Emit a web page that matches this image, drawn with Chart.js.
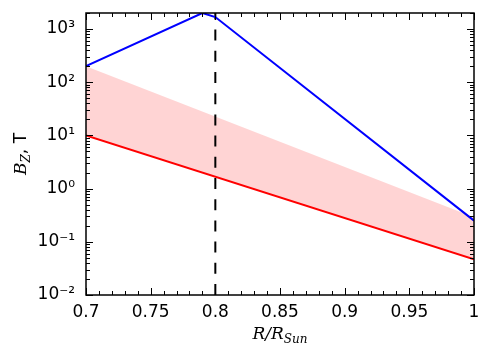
<!DOCTYPE html>
<html>
<head>
<meta charset="utf-8">
<script src="https://cdn.jsdelivr.net/npm/chart.js@4/dist/chart.umd.min.js"></script>
<style>
html,body{margin:0;padding:0;background:#fff;}
#wrap{width:491px;height:360px;position:relative;}
</style>
</head>
<body>
<div id="wrap"><canvas id="c" width="491" height="360"></canvas></div>
<script>
// ---- data ----
const blueX = [0.7, 0.79, 0.8, 1.0];
const blueY = [200, 2000, 1680, 0.25];
const redX = [0.7, 1.0];
const redY = [10, 0.047];
const bandTopX = [0.7, 1.0];
const bandTopY = [200, 0.29];
const dashX = [0.8, 0.8];
const dashY = [0.01, 2000];
const xTicks = [0.7, 0.75, 0.8, 0.85, 0.9, 0.95, 1.0];
const xTickLabels = ['0.7', '0.75', '0.8', '0.85', '0.9', '0.95', '1'];
const yTicks = [0.01, 0.1, 1, 10, 100, 1000];
const yTickLabels = ['10\u207B\u00B2', '10\u207B\u00B9', '10\u2070', '10\u00B9', '10\u00B2', '10\u00B3'];
const xMinorStep = 0.01;

const pts = (xs, ys) => xs.map((x, i) => ({x: x, y: ys[i]}));

const frame = {
  id: 'frame',
  afterDraw(chart) {
    const ctx = chart.ctx, a = chart.chartArea;
    const xs = chart.scales.x, ys = chart.scales.y;
    ctx.save();
    ctx.strokeStyle = '#000';
    ctx.lineWidth = 1;
    ctx.beginPath();
    const nMinor = Math.round((xs.max - xs.min) / xMinorStep);
    for (let i = 0; i <= nMinor; i++) {
      const v = xs.min + i * xMinorStep;
      const px = Math.round(xs.getPixelForValue(v)) + 0.5;
      const major = xTicks.some(t => Math.abs(t - v) < 1e-9);
      const L = major ? 7 : 4;
      ctx.moveTo(px, a.bottom); ctx.lineTo(px, a.bottom - L);
      ctx.moveTo(px, a.top); ctx.lineTo(px, a.top + L);
    }
    for (let d = -2; d <= 3; d++) {
      for (let k = 1; k <= 9; k++) {
        const v = k * Math.pow(10, d);
        if (v < ys.min - 1e-12 || v > ys.max) continue;
        const py = Math.round(ys.getPixelForValue(v)) + 0.5;
        const L = k === 1 ? 7 : 4;
        ctx.moveTo(a.left, py); ctx.lineTo(a.left + L, py);
        ctx.moveTo(a.right, py); ctx.lineTo(a.right - L, py);
      }
    }
    ctx.stroke();
    ctx.lineWidth = 1.5;
    ctx.strokeRect(a.left, a.top, a.right - a.left, a.bottom - a.top);

    ctx.fillStyle = '#000';
    ctx.textBaseline = 'alphabetic';
    const fMain = 'italic 17px "DejaVu Serif"';
    const fSub = 'italic 12px "DejaVu Serif"';
    ctx.font = fMain;
    const w1 = ctx.measureText('R/R').width;
    ctx.font = fSub;
    const w2 = ctx.measureText('Sun').width;
    const cx = (a.left + a.right) / 2;
    let x0 = cx - (w1 + w2) / 2;
    const by = 339;
    ctx.font = fMain; ctx.textAlign = 'left';
    ctx.fillText('R/R', x0, by);
    ctx.font = fSub;
    ctx.fillText('Sun', x0 + w1, by + 4);

    ctx.save();
    ctx.translate(26, (a.top + a.bottom) / 2);
    ctx.rotate(-Math.PI / 2);
    ctx.font = fMain;
    const wb = ctx.measureText('B').width;
    ctx.font = fSub;
    const wz = ctx.measureText('Z').width;
    ctx.font = '17px "DejaVu Sans"';
    const wt = ctx.measureText(', T').width;
    let s = -(wb + wz + wt) / 2;
    ctx.font = fMain; ctx.fillText('B', s, 0);
    ctx.font = fSub; ctx.fillText('Z', s + wb, 4);
    ctx.font = '17px "DejaVu Sans"'; ctx.fillText(', T', s + wb + wz, 0);
    ctx.restore();
    ctx.restore();
  }
};

new Chart(document.getElementById('c'), {
  type: 'line',
  data: {
    datasets: [
      { data: pts(bandTopX, bandTopY), borderWidth: 0, borderColor: 'rgba(0,0,0,0)',
        backgroundColor: 'rgba(255,0,0,0.17)', fill: 1, pointRadius: 0 },
      { data: pts(redX, redY), borderColor: '#ff0000', borderWidth: 2, pointRadius: 0, fill: false },
      { data: pts(blueX, blueY), borderColor: '#0000ff', borderWidth: 2, pointRadius: 0, fill: false },
      { data: pts(dashX, dashY), borderColor: '#000000', borderWidth: 2, borderDash: [11, 10.2],
        pointRadius: 0, fill: false }
    ]
  },
  options: {
    responsive: false,
    animation: false,
    devicePixelRatio: 1,
    layout: { padding: { left: 0, right: 17, top: 13, bottom: 0 } },
    plugins: {
      legend: { display: false },
      tooltip: { enabled: false },
      filler: { drawTime: 'beforeDatasetsDraw' }
    },
    elements: { line: { tension: 0 } },
    scales: {
      x: {
        type: 'linear', min: 0.7, max: 1.0,
        grid: { display: false, drawTicks: false },
        border: { display: false },
        afterBuildTicks: (sc) => { sc.ticks = xTicks.map(v => ({ value: v })); },
        afterFit: (sc) => { sc.height = 65; sc.paddingLeft = 0; sc.paddingRight = 0; },
        ticks: {
          autoSkip: false, maxRotation: 0, padding: 7, color: '#000',
          font: { family: '"DejaVu Sans"', size: 17 },
          callback: (v) => { const i = xTicks.findIndex(t => Math.abs(t - v) < 1e-9); return i >= 0 ? xTickLabels[i] : ''; }
        }
      },
      y: {
        type: 'logarithmic', min: 0.01, max: 2000,
        grid: { display: false, drawTicks: false },
        border: { display: false },
        afterBuildTicks: (sc) => { sc.ticks = yTicks.map(v => ({ value: v })); },
        afterFit: (sc) => { sc.width = 86; sc.paddingTop = 0; sc.paddingBottom = 0; },
        ticks: {
          autoSkip: false, padding: 11, color: '#000',
          font: { family: '"DejaVu Sans"', size: 17 },
          callback: (v) => { const i = yTicks.findIndex(t => Math.abs(Math.log10(t) - Math.log10(v)) < 1e-6); return i >= 0 ? yTickLabels[i] : ''; }
        }
      }
    }
  },
  plugins: [frame]
});
</script>
</body>
</html>
